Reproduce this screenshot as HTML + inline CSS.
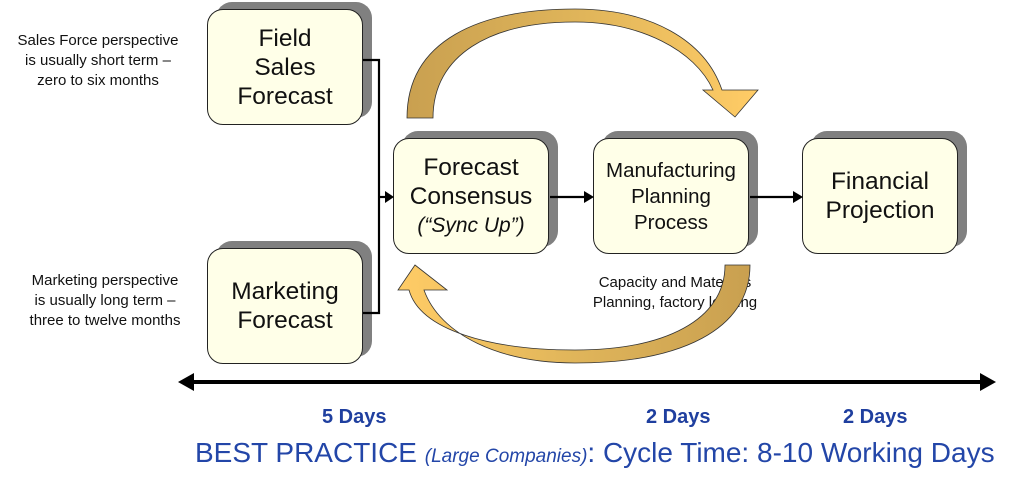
<!DOCTYPE html>
<html><head><meta charset="utf-8"><style>
body{margin:0;width:1014px;height:491px;background:#fff;overflow:hidden;position:relative;font-family:"Liberation Sans",sans-serif}
.b{position:absolute;width:156px;height:116px;border:1.5px solid #222;border-radius:16px;background:#FFFFE8;box-sizing:border-box;display:flex;flex-direction:column;align-items:center;justify-content:center;text-align:center;color:#111;font-size:24.5px;line-height:29px;z-index:2}
.s{position:absolute;width:156px;height:116px;border-radius:16px;background:#808080;z-index:1}
.t{position:absolute;font-size:15px;line-height:20px;text-align:center;color:#111;white-space:nowrap}
.d{position:absolute;color:#1F3F9F;font-weight:bold;font-size:20px}
</style></head><body>
<svg width="1014" height="491" style="position:absolute;left:0;top:0;z-index:3">
<defs>
<linearGradient id="g1" x1="0" x2="1" y1="0" y2="0"><stop offset="0" stop-color="#C9A050"/><stop offset="0.5" stop-color="#E0B55A"/><stop offset="1" stop-color="#FFCC66"/></linearGradient>
<linearGradient id="g2" x1="1" x2="0" y1="0" y2="0"><stop offset="0" stop-color="#C9A050"/><stop offset="0.5" stop-color="#E0B55A"/><stop offset="1" stop-color="#FFCC66"/></linearGradient>
</defs>
<path d="M407,118 C407,40 480,9 575,9 C650,9 705,40 722,90 L758,90 L735,117 L703,90 L713,90 C695,50 640,22 575,22 C490,22 433,55 433,118 Z" fill="url(#g1)" stroke="#333" stroke-width="0.8"/>
<path d="M750,265 C750,330 680,363 575,363 C500,363 440,335 424,290 L447,290 L415,265 L398,290 L409,290 C420,330 490,350 575,350 C665,350 725,320 725,265 Z" fill="url(#g2)" stroke="#333" stroke-width="0.8"/>
<g stroke="#000" stroke-width="2.2" fill="none">
<polyline points="363,60 379,60 379,313 363,313"/>
<line x1="379" y1="197" x2="386" y2="197"/>
<line x1="550" y1="197" x2="584" y2="197"/>
<line x1="750" y1="197" x2="793" y2="197"/>
<line x1="190" y1="382" x2="983" y2="382" stroke-width="4"/>
</g>
<g fill="#000">
<polygon points="385,191 394,197 385,203"/>
<polygon points="584,191 594,197 584,203"/>
<polygon points="793,191 803,197 793,203"/>
<polygon points="178,382 194,373 194,391"/>
<polygon points="996,382 980,373 980,391"/>
</g>
</svg>
<div class="s" style="left:216px;top:2px"></div><div class="b" style="left:207px;top:9px">Field<br>Sales<br>Forecast</div>
<div class="s" style="left:216px;top:241px"></div><div class="b" style="left:207px;top:248px">Marketing<br>Forecast</div>
<div class="s" style="left:402px;top:131px"></div><div class="b" style="left:393px;top:138px">Forecast<br>Consensus<span style="font-style:italic;font-size:21px">(“Sync Up”)</span></div>
<div class="s" style="left:602px;top:131px"></div><div class="b" style="left:593px;top:138px;font-size:20.5px;line-height:26px;justify-content:flex-start;padding-top:19px">Manufacturing<br>Planning<br>Process</div>
<div class="s" style="left:811px;top:131px"></div><div class="b" style="left:802px;top:138px">Financial<br>Projection</div>
<div class="t" style="left:0;top:31px;width:196px">Sales Force perspective<br>is usually short term –<br>zero to six months</div>
<div class="t" style="left:7px;top:271px;width:196px">Marketing perspective<br>is usually long term –<br>three to twelve months</div>
<div class="t" style="left:575px;top:273px;width:200px;z-index:1">Capacity and Materials<br>Planning, factory loading</div>
<div class="d" style="left:322px;top:406px">5 Days</div>
<div class="d" style="left:646px;top:406px">2 Days</div>
<div class="d" style="left:843px;top:406px">2 Days</div>
<div style="position:absolute;left:195px;top:437px;color:#2346A8;font-size:28px;white-space:nowrap">BEST PRACTICE <i style="font-size:19px">(Large Companies)</i>: Cycle Time: 8-10 Working Days</div>
</body></html>
